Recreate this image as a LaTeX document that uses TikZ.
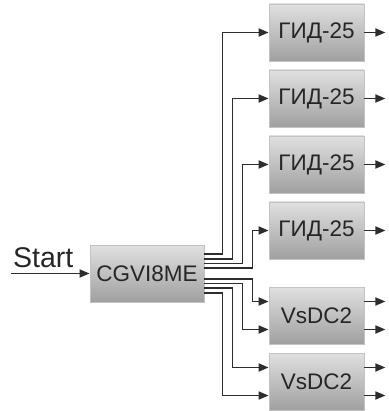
\documentclass[tikz,border=0pt]{standalone}
\usepackage{fontspec}
\setmainfont{Liberation Sans}
\usetikzlibrary{arrows.meta,calc}
\definecolor{boxtop}{RGB}{224,224,224}
\definecolor{boxbot}{RGB}{160,160,160}
\definecolor{boxline}{RGB}{195,195,195}
\definecolor{wire}{RGB}{45,45,45}
\tikzset{
  blk/.style={rectangle, draw=boxline, line width=0.8pt, top color=boxtop, bottom color=boxbot,
    minimum height=57pt, inner sep=0pt, text=black!85, font=\fontsize{22.5}{24}\selectfont},
  gid/.style={blk, minimum width=95pt},
  arr/.style={draw=wire, line width=1.7pt, -{Triangle[length=10pt,width=8pt]}},
}
\begin{document}
\begin{tikzpicture}[x=1pt,y=-1pt]
\useasboundingbox (0,0) rectangle (388,411);
\node[blk, minimum width=114pt] (c) at (147,273.5) {CGVI8ME};
\node[gid] (g1) at (316.5,32.5) {ГИД-25};
\node[gid] (g2) at (316.5,98.5) {ГИД-25};
\node[gid] (g3) at (316.5,164.5) {ГИД-25};
\node[gid] (g4) at (316.5,230.5) {ГИД-25};
\node[gid] (v1) at (316.5,315.5) {VsDC2};
\node[gid] (v2) at (316.5,381.5) {VsDC2};
\node[anchor=base west, inner sep=0pt, font=\fontsize{28.5}{30}\selectfont, text=black!85] (st) at (13,267) {Start};
\coordinate (s) at (11,273.5);
\draw[arr] (s) -- (c.west);
% to GID boxes
\draw[arr] ([yshift=19.3pt]c.east) -- ++(18,0) |- (g1.west);
\draw[arr] ([yshift=14.6pt]c.east) -- ++(28,0) |- (g2.west);
\draw[arr] ([yshift=9.9pt]c.east) -- ++(38,0) |- (g3.west);
\draw[arr] ([yshift=5.2pt]c.east) -- ++(48,0) |- (g4.west);
% to VsDC boxes
\draw[arr] ([yshift=-5.2pt]c.east) -- ++(48,0) |- ([yshift=14pt]v1.west);
\draw[arr] ([yshift=-9.9pt]c.east) -- ++(38,0) |- ([yshift=-14pt]v1.west);
\draw[arr] ([yshift=-14.6pt]c.east) -- ++(28,0) |- ([yshift=14pt]v2.west);
\draw[arr] ([yshift=-19.3pt]c.east) -- ++(18,0) |- ([yshift=-14pt]v2.west);
% outputs
\foreach \g in {g1,g2,g3,g4}{\draw[arr] (\g.east) -- ++(21,0);}
\foreach \v in {v1,v2}{
  \draw[arr] ([yshift=14pt]\v.east) -- ++(21,0);
  \draw[arr] ([yshift=-14pt]\v.east) -- ++(21,0);
}
\end{tikzpicture}
\end{document}
